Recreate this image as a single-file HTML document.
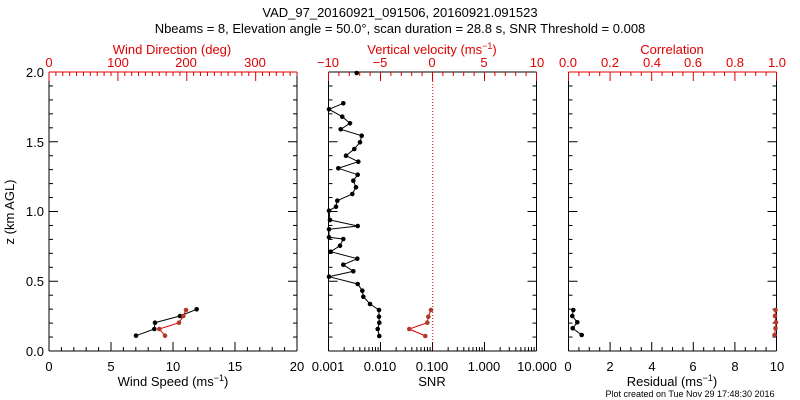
<!DOCTYPE html>
<html><head><meta charset="utf-8"><style>
body{margin:0;background:#fff;}
svg{display:block;font-family:"Liberation Sans",sans-serif;}
text{font-size:13px;}
</style></head><body>
<svg id="s" width="800" height="400" viewBox="0 0 800 400" xmlns="http://www.w3.org/2000/svg">
<rect width="800" height="400" fill="#fff"/>
<g text-anchor="middle" fill="#000">
<text x="400" y="17">VAD_97_20160921_091506, 20160921.091523</text>
<text x="400" y="33">Nbeams = 8, Elevation angle = 50.0°, scan duration = 28.8 s, SNR Threshold = 0.008</text>
</g>
<g text-anchor="middle" fill="#e00000">
<text x="172" y="54">Wind Direction (deg)</text>
<text x="432" y="54">Vertical velocity (ms<tspan dy="-5" font-size="9">−1</tspan><tspan dy="5">)</tspan></text>
<text x="672" y="54">Correlation</text>
<text x="49" y="67">0</text><text x="118" y="67">100</text><text x="186" y="67">200</text><text x="255" y="67">300</text>
<text x="328" y="67">−10</text><text x="380" y="67">−5</text><text x="432" y="67">0</text><text x="484" y="67">5</text><text x="537" y="67">10</text>
<text x="568" y="67">0.0</text><text x="610" y="67">0.2</text><text x="652" y="67">0.4</text><text x="693" y="67">0.6</text><text x="735" y="67">0.8</text><text x="777" y="67">1.0</text>
</g>
<g text-anchor="end" fill="#000">
<text x="44" y="356">0.0</text><text x="44" y="286">0.5</text><text x="44" y="216">1.0</text><text x="44" y="147">1.5</text><text x="44" y="77">2.0</text>
</g>
<text x="14" y="212" transform="rotate(-90 14 212)" text-anchor="middle">z (km AGL)</text>
<g text-anchor="middle" fill="#000">
<text x="49" y="371">0</text><text x="111" y="371">5</text><text x="173" y="371">10</text><text x="235" y="371">15</text><text x="297" y="371">20</text>
<text x="328" y="371">0.001</text><text x="380" y="371">0.010</text><text x="432" y="371">0.100</text><text x="484" y="371">1.000</text><text x="537" y="371">10.000</text>
<text x="568" y="371">0</text><text x="610" y="371">2</text><text x="652" y="371">4</text><text x="693" y="371">6</text><text x="735" y="371">8</text><text x="777" y="371">10</text>
<text x="173" y="386">Wind Speed (ms<tspan dy="-5" font-size="9">−1</tspan><tspan dy="5">)</tspan></text>
<text x="432" y="386">SNR</text>
<text x="672" y="386">Residual (ms<tspan dy="-5" font-size="9">−1</tspan><tspan dy="5">)</tspan></text>
<text x="690" y="397" style="font-size:9px">Plot created on Tue Nov 29 17:48:30 2016</text>
</g>
<g id="ax" fill="none" stroke-width="1"></g>
<line x1="432.7" y1="72" x2="432.7" y2="351" stroke="#e00000" stroke-dasharray="1,2"/>
<g id="data"></g>
</svg>
<script>
var ns="http://www.w3.org/2000/svg",ax=document.getElementById('ax'),dg=document.getElementById('data');
function L(x1,y1,x2,y2,c,p){var l=document.createElementNS(ns,'line');l.setAttribute('x1',x1);l.setAttribute('y1',y1);l.setAttribute('x2',x2);l.setAttribute('y2',y2);l.setAttribute('stroke',c);(p||ax).appendChild(l);}
var T=72,B=351,panels=[[49,297],[328.5,536.5],[568.5,776.5]];
panels.forEach(function(p){var a=p[0],b=p[1];
L(a,T,a,B,'#000');L(b,T,b,B,'#000');L(a,B,b,B,'#000');L(a,T,b,T,'#000');
for(var i=0;i<=20;i++){var y=B-i*(B-T)/20,len=(i%5==0)?9:4;L(a,y,a+len,y,'#000');L(b,y,b-len,y,'#000');}
});
L(49,T,297,T,'#e00000');L(568.5,T,776.5,T,'#e00000');L(328.5,T,536.5,T,'#000');
for(var i=0;i<=20;i++){var x=49+i*248/20;L(x,B,x,B-(i%5==0?9:4),'#000');}
for(var i=0;i<=36;i++){var x=49+i*248/36;L(x,T,x,T+(i%10==0?9:4),'#e00000');}
for(var i=0;i<=20;i++){var x=328.5+i*208/20;L(x,T,x,T+(i%5==0?9:4),'#e00000');}
for(var d=0;d<4;d++){for(var k=1;k<=9;k++){var x=328.5+(d+Math.log10(k))*52;L(x,B,x,B-(k==1?9:4),'#000');}}
L(536.5,B,536.5,B-9,'#000');
for(var i=0;i<=20;i++){var x=568.5+i*208/20;L(x,B,x,B-(i%4==0?9:4),'#000');}
for(var i=0;i<=20;i++){var x=568.5+i*208/20;L(x,T,x,T+(i%4==0?9:4),'#e00000');}
function S(pts,c,dot){var pl=document.createElementNS(ns,'polyline');pl.setAttribute('points',pts.map(function(p){return p.join(',')}).join(' '));pl.setAttribute('fill','none');pl.setAttribute('stroke',c);dg.appendChild(pl);
pts.forEach(function(p){var r=document.createElementNS(ns,'circle');r.setAttribute('cx',p[0]);r.setAttribute('cy',p[1]);r.setAttribute('r',2.3);r.setAttribute('fill',dot);dg.appendChild(r);});}
S([[136,335.7],[154.3,329],[155,322.7],[180,316],[196.7,309.3]],'#000','#000');
S([[165,335.7],[159.3,329],[179,322.7],[183.3,316],[186,310]],'#e00000','#b03a2a');
S([[356.7,73]],'#000','#000');
S([[343.3,103.3],[329,109.3],[342.3,116.7],[350,123.3],[340.7,129.3],[361.7,135.7],[360,142.3],[354.3,149],[346,155.7],[358.3,161.7],[338.3,168.3],[357.7,174.7],[353.3,180.7],[356,187.3],[352.3,194],[337.3,200.7],[336,206.7],[329,210.7],[330,220],[357.7,226],[329,229.3],[329,237.3],[343.3,239],[340,245.7],[330.7,251.7],[357.3,258.7],[343.3,264.7],[353.3,271.3],[329,276.7],[357.7,284],[362.3,290.7],[363.3,296.7],[370,304],[379,310],[379,316.7],[379.3,322.7],[377.7,329],[379.3,336]],'#000','#000');
S([[431,310],[428.3,316.7],[427.3,322.7],[409.3,329],[425.3,336]],'#e00000','#b03a2a');
S([[573.3,310],[572.3,316],[577.3,322.3],[572.7,328.3],[581.7,335]],'#000','#000');
S([[775.5,310],[775,316],[776,322.3],[775.5,328.3],[774.5,335]],'#e00000','#b03a2a');
</script>
</body></html>
